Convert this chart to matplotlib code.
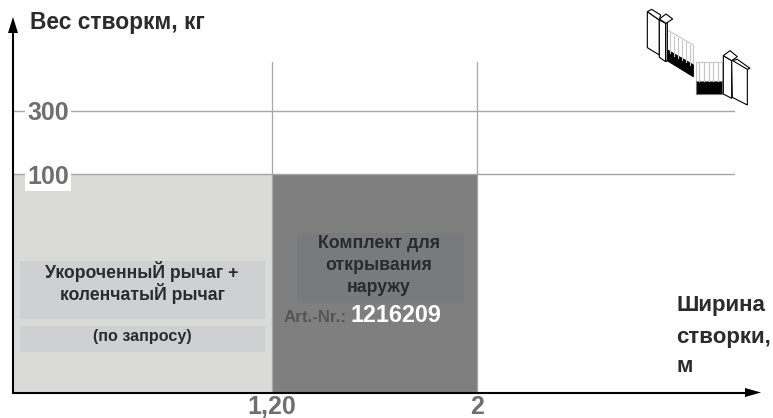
import numpy as np
import matplotlib
matplotlib.use("Agg")
import matplotlib.pyplot as plt
from matplotlib.patches import Polygon, Rectangle

plt.rcParams['font.family'] = ['Liberation Sans', 'DejaVu Sans']

# Werte
width_ticks = [1.2, 2]
width_labels = ["1,20", "2"]
weight_ticks = [100, 300]
weight_labels = ["100", "300"]
region_starts = [0, 1.2]
region_widths = [1.2, 0.8]
region_heights = [100, 100]
region_colors = ["#dadad9", "#7f7f7f"]

# die Achsen im Original sind nicht linear
x_vals = [0, 1.2, 2, 3]
x_px = [0, 259, 464, 722]
y_vals = [0, 100, 300, 400]
y_px = [0, 218, 281, 330]


def x_fwd(v):
    return np.interp(v, x_vals, x_px)


def x_inv(v):
    return np.interp(v, x_px, x_vals)


def y_fwd(v):
    return np.interp(v, y_vals, y_px)


def y_inv(v):
    return np.interp(v, y_px, y_vals)


W, H = 773, 418
fig = plt.figure(figsize=(W / 100, H / 100), dpi=100)
ax = fig.add_axes([13 / W, 1 - 392 / H, 722 / W, 330 / H])
ax.set_xscale("function", functions=(x_fwd, x_inv))
ax.set_yscale("function", functions=(y_fwd, y_inv))
ax.set_xlim(0, 3)
ax.set_ylim(0, 400)
for s in ax.spines.values():
    s.set_visible(False)
ax.patch.set_alpha(0)

ax.bar(region_starts, region_heights, width=region_widths, align="edge",
       color=region_colors, linewidth=0, zorder=1)
for v in width_ticks:
    ax.axvline(v, color="#a6a6a6", lw=0.9, zorder=2)
for v in weight_ticks:
    ax.axhline(v, color="#a6a6a6", lw=1.0, zorder=2)

ax.set_xticks(width_ticks, width_labels, fontsize=18, fontweight="bold", color="#6f6f6f")
ax.set_yticks([])
ax.tick_params(axis="x", length=0, pad=2.5)

for v, lab in zip(weight_ticks, weight_labels):
    ax.annotate(lab, (0, v), xytext=(14, 0), textcoords="offset pixels", fontsize=18,
                fontweight="bold", color="#6f6f6f", va="center_baseline", ha="left",
                bbox=dict(fc="white", ec="none", pad=1.5), zorder=3)

# Ebene in Pixeln fuer Beschriftung und Pfeile
ov = fig.add_axes([0, 0, 1, 1])
ov.set_xlim(0, W)
ov.set_ylim(H, 0)
ov.axis("off")

ov.add_patch(Rectangle((20, 261), 245, 58, fc="#cfd0d2", ec="none"))
ov.add_patch(Rectangle((20, 326), 245, 26, fc="#cfd0d2", ec="none"))
ov.add_patch(Rectangle((297, 233), 167, 70, fc="#797a7e", ec="none"))

ov.plot([13, 13], [393, 30], color="black", lw=1.5, solid_capstyle="butt")
ov.plot([12, 750], [392.5, 392.5], color="black", lw=1.5, solid_capstyle="butt")
ov.add_patch(Polygon([(8, 33), (18, 33), (13, 17)], fc="black", ec="none"))
ov.add_patch(Polygon([(745, 388), (745, 397), (761, 392.5)], fc="black", ec="none"))

ov.text(30, 23, "Вес створкм, кг", fontsize=16.4, fontweight="bold", color="#2b2b2b", va="center", ha="left")
ov.text(142, 272, "УкороченныЙ рычаг +", fontsize=12.7, fontweight="bold", color="#2b2b2b", va="center", ha="center")
ov.text(142, 294, "коленчатыЙ рычаг", fontsize=12.7, fontweight="bold", color="#2b2b2b", va="center", ha="center")
ov.text(142, 337, "(по запросу)", fontsize=11.6, fontweight="bold", color="#2b2b2b", va="center", ha="center")
ov.text(379, 243, "Комплект для", fontsize=12.8, fontweight="bold", color="#2b2b2b", va="center", ha="center")
ov.text(379, 266, "открывания", fontsize=12.8, fontweight="bold", color="#2b2b2b", va="center", ha="center")
ov.text(379, 288, "наружу", fontsize=12.8, fontweight="bold", color="#2b2b2b", va="center", ha="center")
ov.text(284, 318, "Art.-Nr.:", fontsize=12.2, fontweight="bold", color="#555555", va="center", ha="left")
ov.text(351, 315, "1216209", fontsize=16.8, fontweight="bold", color="white", va="center", ha="left")
ov.text(676, 306, "Ширина", fontsize=16, fontweight="bold", color="#2b2b2b", va="center", ha="left")
ov.text(676, 337, "створки,", fontsize=16, fontweight="bold", color="#2b2b2b", va="center", ha="left")
ov.text(676, 366, "м", fontsize=16, fontweight="bold", color="#2b2b2b", va="center", ha="left")


# kleines Tor oben rechts
def z(pts):
    return [(620 + a / 3, b / 3) for a, b in pts]


def shape(pts, fc="white", ec="black", lw=0.8):
    ov.add_patch(Polygon(z(pts), fc=fc, ec=ec, lw=lw, joinstyle="miter"))


shape([(82, 35), (118, 60), (118, 165), (82, 143)])
shape([(82, 35), (95, 28), (122, 45), (118, 60)])
shape([(142, 90), (220, 135), (220, 195), (142, 150)], fc="white", ec="#c8c8c8")
for a in range(150, 220, 12):
    ov.plot(*zip(*z([(a, 95 + (a - 142) * 0.58), (a, 155 + (a - 142) * 0.58)])), color="#c8c8c8", lw=0.8)
shape([(142, 150), (220, 195), (220, 230), (142, 182)], fc="black")
shape([(118, 60), (137, 70), (137, 185), (118, 172)])
shape([(137, 70), (142, 67), (142, 182), (137, 185)])
shape([(118, 57), (138, 42), (158, 57), (138, 70)])
shape([(228, 185), (306, 185), (306, 243), (228, 243)], fc="white", ec="#c8c8c8")
for a in range(238, 306, 14):
    ov.plot(*zip(*z([(a, 187), (a, 243)])), color="#c8c8c8", lw=0.9)
shape([(228, 243), (306, 243), (306, 282), (228, 282)], fc="black", ec="#777777")
shape([(310, 167), (335, 182), (335, 295), (310, 282)])
shape([(310, 167), (330, 152), (352, 170), (335, 182)])
shape([(335, 182), (352, 178), (390, 205), (382, 208), (382, 315), (337, 292)])
ov.plot(*zip(*z([(382, 208), (340, 183)])), color="black", lw=0.8)

fig.savefig("out.png", dpi=100)
